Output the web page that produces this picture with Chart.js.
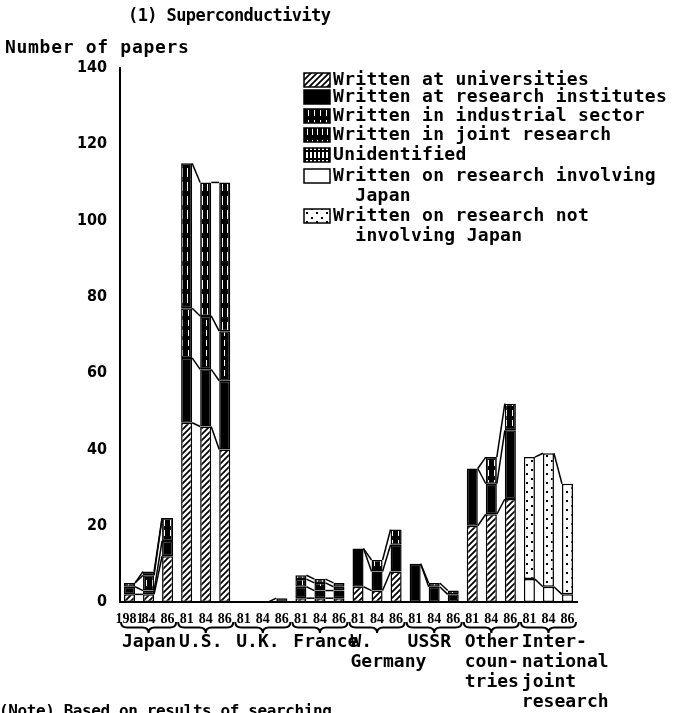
<!DOCTYPE html>
<html lang="en">
<head>
<meta charset="UTF-8" />
<title>(1) Superconductivity</title>
<style>
  html, body { margin: 0; padding: 0; background: #fff; }
  #wrap { width: 677px; height: 713px; position: relative; }
</style>
<script src="https://cdn.jsdelivr.net/npm/chart.js@4/dist/chart.umd.min.js"></script>
</head>
<body>
<div id="wrap"><canvas id="chart"></canvas></div>
<script>
// years under each bar, 3 per country group
const years = ['1981','84','86', '81','84','86', '81','84','86', '81','84','86',
               '81','84','86', '81','84','86', '81','84','86', '81','84','86'];
const groupLabels = [['Japan'], ['U.S.'], ['U.K.'], ['France'], ['W.', 'Germany'],
                     ['USSR'], ['Other', 'coun-', 'tries'], ['Inter-', 'national', 'joint', 'research']];

// number of papers
const universities = [2, 2, 12, 47, 46, 40, 0, 0, 0, 1, 1, 1, 4, 3, 8, 0, 0, 0, 20, 23, 27, 0, 0, 0];
const institutes   = [2, 1, 4, 17, 15, 18, 0, 0, 1, 3, 2, 2, 10, 5, 7, 10, 4, 2, 15, 8, 18, 0, 0, 0];
const industrial   = [1, 4, 6, 13, 14, 13, 0, 0, 0, 2, 2, 1, 0, 3, 4, 0, 1, 1, 0, 7, 7, 0, 0, 0];
const jointRes     = [0, 1, 0, 38, 35, 39, 0, 0, 0, 1, 1, 1, 0, 0, 0, 0, 0, 0, 0, 0, 0, 0, 0, 0];
const unidentified = [0, 0, 0, 0, 0, 0, 0, 0, 0, 0, 0, 0, 0, 0, 0, 0, 0, 0, 0, 0, 0, 0, 0, 0];
const involvingJp  = [0, 0, 0, 0, 0, 0, 0, 0, 0, 0, 0, 0, 0, 0, 0, 0, 0, 0, 0, 0, 0, 6, 4, 2];
const notInvolving = [0, 0, 0, 0, 0, 0, 0, 0, 0, 0, 0, 0, 0, 0, 0, 0, 0, 0, 0, 0, 0, 32, 35, 29];

const legendLabels = [
  ['Written at universities'],
  ['Written at research institutes'],
  ['Written in industrial sector'],
  ['Written in joint research'],
  ['Unidentified'],
  ['Written on research involving', '  Japan'],
  ['Written on research not', '  involving Japan']
];

const MONO = '"DejaVu Sans Mono", monospace';

// fill patterns, built on small tiles
function tile(w, h, draw) {
  const c = document.createElement('canvas');
  c.width = w; c.height = h;
  const g = c.getContext('2d');
  draw(g);
  return g.createPattern(c, 'repeat');
}
const pHatch = tile(6, 6, g => {
  g.fillStyle = '#fff'; g.fillRect(0, 0, 6, 6);
  g.strokeStyle = '#000'; g.lineWidth = 1.8;
  g.beginPath();
  g.moveTo(-1, 7); g.lineTo(7, -1);
  g.moveTo(-4, 4); g.lineTo(4, -4);
  g.moveTo(2, 10); g.lineTo(10, 2);
  g.stroke();
});
const pIndustrial = tile(6, 10, g => {
  g.fillStyle = '#000'; g.fillRect(0, 0, 6, 10);
  g.fillStyle = '#fff'; g.fillRect(2, 0, 1, 6);
});
const pJoint = tile(5, 14, g => {
  g.fillStyle = '#000'; g.fillRect(0, 0, 5, 14);
  g.fillStyle = '#fff'; g.fillRect(2, 0, 1, 9);
});
const pUnident = tile(4, 8, g => {
  g.fillStyle = '#fff'; g.fillRect(0, 0, 4, 8);
  g.fillStyle = '#000'; g.fillRect(0, 0, 2, 8); g.fillRect(0, 6, 4, 2);
});
const pDots = tile(10, 9, g => {
  g.fillStyle = '#fff'; g.fillRect(0, 0, 10, 9);
  g.fillStyle = '#000'; g.fillRect(1, 1, 2, 2); g.fillRect(6, 5, 2, 2);
});

const series = [universities, institutes, industrial, jointRes, unidentified, involvingJp, notInvolving];
const fills = [pHatch, '#000', pIndustrial, pJoint, pUnident, '#fff', pDots];

const datasets = series.map((d, i) => ({
  label: legendLabels[i].join(' '),
  data: d,
  backgroundColor: fills[i],
  borderColor: '#000',
  borderWidth: 1.5,
  borderSkipped: false,
  categoryPercentage: 1,
  barPercentage: 0.58
}));

// title, legend, braces, group names and the lines between bars
const decor = {
  id: 'decor',
  afterDatasetsDraw(chart) {
    const ctx = chart.ctx;
    const y = chart.scales.y;
    const bars = chart.getDatasetMeta(0).data;
    ctx.save();
    ctx.strokeStyle = '#000';
    ctx.lineWidth = 1.5;
    for (let g = 0; g < groupLabels.length; g++) {
      for (let j = 0; j < 2; j++) {
        const a = g * 3 + j, b = a + 1;
        let ca = 0, cb = 0;
        for (let d = 0; d < series.length; d++) {
          ca += series[d][a]; cb += series[d][b];
          if (series[d][a] === 0 && series[d][b] === 0) continue;
          ctx.beginPath();
          ctx.moveTo(bars[a].x + bars[a].width / 2, y.getPixelForValue(ca));
          ctx.lineTo(bars[b].x - bars[b].width / 2, y.getPixelForValue(cb));
          ctx.stroke();
        }
      }
    }
    ctx.restore();
  },
  afterDraw(chart) {
    const ctx = chart.ctx;
    const bars = chart.getDatasetMeta(0).data;
    ctx.save();
    ctx.fillStyle = '#000';
    ctx.textBaseline = 'middle';
    ctx.textAlign = 'left';

    ctx.font = 'bold 17px ' + MONO;
    ctx.letterSpacing = '-0.6px';
    ctx.fillText('(1) Superconductivity', 128, 17);
    ctx.font = 'bold 18px ' + MONO;
    ctx.letterSpacing = '0.7px';
    ctx.fillText('Number of papers', 5, 48);

    // legend
    const rows = [80, 97, 116, 135, 155, 176, 216];
    ctx.font = 'bold 18px ' + MONO;
    ctx.letterSpacing = '0.3px';
    legendLabels.forEach((lines, i) => {
      const ry = rows[i];
      ctx.fillStyle = fills[i];
      ctx.fillRect(304, ry - 7, 26, 14);
      ctx.strokeStyle = '#000';
      ctx.lineWidth = 1.5;
      ctx.strokeRect(304, ry - 7, 26, 14);
      ctx.fillStyle = '#000';
      lines.forEach((t, k) => ctx.fillText(t, 333, ry + k * 20));
    });

    // braces under the years
    ctx.lineWidth = 2;
    ctx.font = 'bold 18px ' + MONO;
    ctx.letterSpacing = '0px';
    for (let g = 0; g < groupLabels.length; g++) {
      const first = bars[g * 3], last = bars[g * 3 + 2];
      const x0 = first.x - first.width / 2 - 3, x1 = last.x + last.width / 2 + 3;
      const mid = (x0 + x1) / 2, top = 622, h = 11, r = 6;
      ctx.beginPath();
      ctx.moveTo(x0, top);
      ctx.quadraticCurveTo(x0, top + h / 2, x0 + r, top + h / 2);
      ctx.lineTo(mid - r, top + h / 2);
      ctx.quadraticCurveTo(mid, top + h / 2, mid, top + h);
      ctx.quadraticCurveTo(mid, top + h / 2, mid + r, top + h / 2);
      ctx.lineTo(x1 - r, top + h / 2);
      ctx.quadraticCurveTo(x1, top + h / 2, x1, top);
      ctx.stroke();

      groupLabels[g].forEach((t, k) => {
        ctx.fillText(t, first.x - first.width / 2 - 2, 642 + k * 20);
      });
    }

    ctx.font = 'bold 16px ' + MONO;
    ctx.letterSpacing = '-0.4px';
    ctx.textBaseline = 'alphabetic';
    ctx.fillText('(Note) Based on results of searching', -1, 716);
    ctx.restore();
  }
};

new Chart(document.getElementById('chart'), {
  type: 'bar',
  data: { labels: years, datasets },
  options: {
    responsive: true,
    maintainAspectRatio: false,
    animation: false,
    layout: { padding: { top: 68, right: 100, bottom: 0, left: 0 } },
    plugins: { legend: { display: false }, tooltip: { enabled: false }, title: { display: false } },
    scales: {
      x: {
        stacked: true,
        grid: { display: false },
        border: { display: true, color: '#000', width: 2 },
        ticks: {
          color: '#000', autoSkip: false, maxRotation: 0, padding: 1,
          font: { family: '"Liberation Serif", serif', weight: 'bold', size: 14 }
        },
        afterFit(s) { s.height = 111; }
      },
      y: {
        stacked: true,
        min: 0, max: 140,
        grid: { display: false },
        border: { display: true, color: '#000', width: 2 },
        ticks: {
          stepSize: 20, color: '#000', padding: 5,
          font: { family: '"DejaVu Sans Condensed", sans-serif', weight: 'bold', size: 16 }
        },
        afterFit(s) { s.width = 120; }
      }
    }
  },
  plugins: [decor]
});
</script>
</body>
</html>
